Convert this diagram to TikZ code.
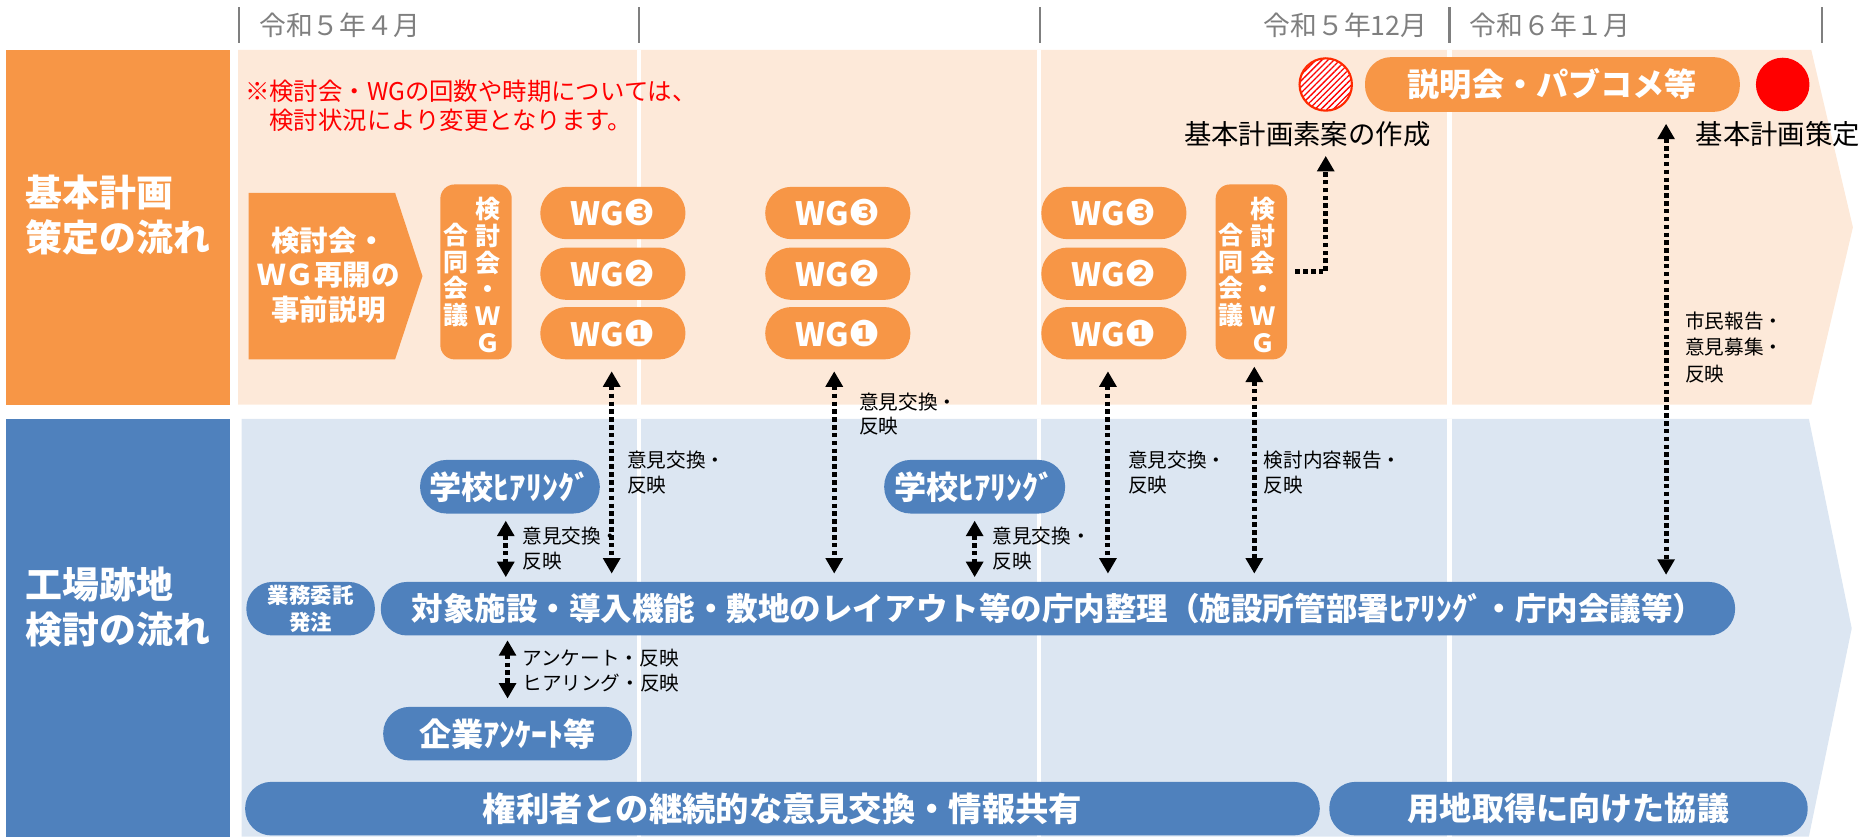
\documentclass[tikz,border=0pt]{standalone}
\usepackage{fontspec}
\setmainfont{Noto Sans CJK JP}
\newfontfamily\dejavu{DejaVu Sans}
\usetikzlibrary{arrows.meta,patterns.meta,calc}
\definecolor{orangeA}{HTML}{F79646}
\definecolor{orangeL}{HTML}{FDE9D9}
\definecolor{blueA}{HTML}{4F81BD}
\definecolor{blueL}{HTML}{DCE6F2}
\definecolor{grayT}{HTML}{7F7F7F}
\definecolor{redO}{HTML}{FF2A00}
\newcommand\cnum[1]{{\dejavu\mdseries\fontsize{30}{30}\selectfont #1}}
\begin{document}
\begin{tikzpicture}[x=1pt,y=-1pt,
  every node/.style={inner sep=0pt,outer sep=0pt},
  ttl/.style={text=white,align=left,font=\fontsize{31}{38}\selectfont\bfseries},
  hdr/.style={anchor=west,text=grayT,font=\fontsize{22.5}{24}\selectfont},
  obox/.style={fill=orangeA,text=white,rounded corners=22pt,font=\fontsize{27}{30}\selectfont\bfseries},
  bbox/.style={fill=blueA,text=white,rounded corners=22pt,minimum height=45pt,font=\fontsize{27}{30}\selectfont\bfseries},
  wg/.style={obox,minimum width=122pt,minimum height=44pt},
  vbox/.style={fill=orangeA,rounded corners=12pt,minimum width=60pt,minimum height=147pt},
  vtext/.style={text=white,align=center,font=\fontsize{21}{22.4}\selectfont\bfseries},
  note/.style={anchor=west,text=black,align=left,font=\fontsize{16.5}{20.5}\selectfont},
  dotln/.style={line width=4.2pt,dash pattern=on 3.8pt off 2.8pt},
  dbl/.style={dotln,{Triangle[width=14pt,length=13pt]}-{Triangle[width=14pt,length=13pt]}},
  sgl/.style={dotln,-{Triangle[width=14pt,length=13pt]}},
  sep/.style={white,line width=3.5pt},
  tick/.style={grayT,line width=2pt}
]
\useasboundingbox (0,0) rectangle (1568,703);
% header
\draw[tick] (201,6) -- (201,36);
\draw[tick] (537,6) -- (537,36);
\draw[tick] (874,6) -- (874,36);
\draw[tick] (1218,6) -- (1218,36);
\draw[tick] (1531,6) -- (1531,36);
\node[hdr] (h1) at (218,21) {令和５年４月};
\node[hdr] (h2) at (1062,21) {令和５年12月};
\node[hdr] (h3) at (1235,21) {令和６年１月};
% bands
\fill[orangeL] (200,42) -- (1522,42) -- (1557,191) -- (1522,340) -- (200,340) -- cycle;
\fill[blueL] (203,352) -- (1520,352) -- (1556,528) -- (1520,703) -- (203,703) -- cycle;
\foreach \xx in {537,873,1218}{
  \draw[sep] (\xx,42) -- (\xx,340);
  \draw[sep] (\xx,352) -- (\xx,703);
}
% left labels
\node[fill=orangeA,minimum width=188pt,minimum height=298pt] (lab1) at (99,191) {};
\node[ttl] (t1) at (99,181) {基本計画\\策定の流れ};
\node[fill=blueA,minimum width=188pt,minimum height=351pt] (lab2) at (99,527.5) {};
\node[ttl] (t2) at (99,510) {工場跡地\\検討の流れ};
% red note
\node[anchor=west,text=red,align=left,font=\fontsize{20.5}{24}\selectfont] (rnote) at (206,89)
  {※検討会・WGの回数や時期については、\\　検討状況により変更となります。};
% pentagon
\fill[orangeA] (209,162) -- (332,162) -- (355,232) -- (332,302) -- (209,302) -- cycle;
\node[text=white,align=center,font=\fontsize{24}{29}\selectfont\bfseries] (pent) at (276,231)
  {検討会・\\ＷＧ再開の\\事前説明};
% joint meeting 1
\node[vbox] (vb1) at (400,228.5) {};
\node[vtext] (vb1r) at (410,231) {検\\討\\会\\・\\Ｗ\\Ｇ};
\node[vtext] (vb1l) at (383,231) {合\\同\\会\\議};
% WG columns
\node[wg] (wg3a) at (515,179) {WG\cnum{❸}};
\node[wg] (wg2a) at (515,230) {WG\cnum{❷}};
\node[wg] (wg1a) at (515,280) {WG\cnum{❶}};
\node[wg] (wg3b) at (704,179) {WG\cnum{❸}};
\node[wg] (wg2b) at (704,230) {WG\cnum{❷}};
\node[wg] (wg1b) at (704,280) {WG\cnum{❶}};
\node[wg] (wg3c) at (936,179) {WG\cnum{❸}};
\node[wg] (wg2c) at (936,230) {WG\cnum{❷}};
\node[wg] (wg1c) at (936,280) {WG\cnum{❶}};
% joint meeting 2
\node[vbox] (vb2) at (1051.5,228.5) {};
\node[vtext] (vb2r) at (1061.5,231) {検\\討\\会\\・\\Ｗ\\Ｇ};
\node[vtext] (vb2l) at (1034.5,231) {合\\同\\会\\議};
% top row
\node[circle,draw=redO,line width=1.8pt,minimum size=44pt,preaction={fill=white},
  pattern={Lines[angle=45,distance=3.6pt,line width=1.1pt]},pattern color=red] (hatch) at (1114,71) {};
\node[obox,minimum width=315pt,minimum height=46pt] (pc) at (1304.5,71) {説明会・パブコメ等};
\node[circle,fill=red,minimum size=45pt] (fin) at (1498,71) {};
\node[anchor=west,font=\fontsize{23}{26}\selectfont] (sokuan) at (995,113) {基本計画素案の作成};
\node[anchor=west,font=\fontsize{23}{26}\selectfont] (sakutei) at (1425,113) {基本計画策定};
% blue area boxes
\node[bbox,minimum width=151pt] (gk1) at (428.5,409) {学校ﾋｱﾘﾝｸﾞ};
\node[bbox,minimum width=152pt] (gk2) at (819,409) {学校ﾋｱﾘﾝｸﾞ};
\node[bbox,minimum width=108pt,align=center,font=\fontsize{18}{23}\selectfont\bfseries] (itaku) at (261,511.5) {業務委託\\発注};
\node[bbox,minimum width=1138pt,font=\fontsize{26.5}{30}\selectfont\bfseries] (mainbar) at (889,511.5)
  {対象施設・導入機能・敷地のレイアウト等の庁内整理（施設所管部署ﾋｱﾘﾝｸﾞ・庁内会議等）};
\node[bbox,minimum width=209pt] (kigyo) at (426.5,616.5) {企業ｱﾝｹｰﾄ等};
\node[bbox,minimum width=903pt,font=\fontsize{28}{30}\selectfont\bfseries] (kenri) at (657.5,679.5) {権利者との継続的な意見交換・情報共有};
\node[bbox,minimum width=402pt] (yochi) at (1318,679.5) {用地取得に向けた協議};
% connectors
\coordinate (ctip) at (1114,131);
\draw[sgl] ($(vb2.east)+(7,0)$) -| (ctip);
\coordinate (pcx) at (1400,0);
\draw[dbl] ($(pc.south -| pcx)+(0,10)$) -- ($(mainbar.north -| pcx)+(0,-6)$);
\draw[dbl] ($(wg1a.south)+(-1,10)$) -- ($(wg1a.south |- mainbar.north)+(-1,-7)$);
\draw[dbl] ($(wg1b.south)+(-3,10)$) -- ($(wg1b.south |- mainbar.north)+(-3,-7)$);
\draw[dbl] ($(wg1c.south)+(-5,10)$) -- ($(wg1c.south |- mainbar.north)+(-5,-7)$);
\draw[dbl] ($(vb2.south)+(2.5,6)$) -- ($(vb2.south |- mainbar.north)+(2.5,-7)$);
\draw[dbl] ($(gk1.south)+(-3.5,6)$) -- ($(gk1.south |- mainbar.north)+(-3.5,-4)$);
\draw[dbl] ($(gk2.south)+(0,6)$) -- ($(gk2.south |- mainbar.north)+(0,-4)$);
\draw[dbl] ($(kigyo.north |- mainbar.south)+(0,4)$) -- ($(kigyo.north)+(0,-7)$);
% labels
\node[note] (l1) at (527,397) {意見交換・\\反映};
\node[note] (l2) at (722,348) {意見交換・\\反映};
\node[note] (l3) at (948,397) {意見交換・\\反映};
\node[note] (l4) at (1062,397) {検討内容報告・\\反映};
\node[note] (l5) at (439,461) {意見交換・\\反映};
\node[note] (l6) at (834,461) {意見交換・\\反映};
\node[note] (l7) at (439,563.5) {アンケート・反映\\ヒアリング・反映};
\node[note,font=\fontsize{16.5}{22}\selectfont] (l8) at (1416,292) {市民報告・\\意見募集・\\反映};
\end{tikzpicture}
\end{document}
